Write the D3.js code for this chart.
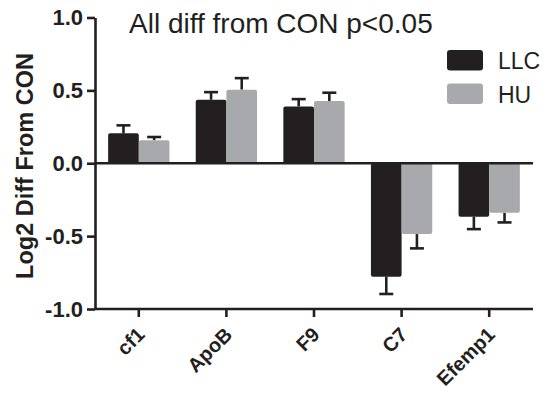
<!DOCTYPE html>
<html>
<head>
<meta charset="utf-8">
<script src="https://cdn.jsdelivr.net/npm/d3@7/dist/d3.min.js"></script>
<style>
  body { margin: 0; background: #fff; }
  text { font-family: "Liberation Sans", Arial, Helvetica, sans-serif; fill: #231f20; }
</style>
</head>
<body>
<div id="chart"></div>
<script>
// data
var genes = ['cf1', 'ApoB', 'F9', 'C7', 'Efemp1'];
var groups = ['LLC', 'HU'];
var llcValues = [0.205, 0.436, 0.39, -0.778, -0.367];
var llcErrors = [0.055, 0.052, 0.05, 0.119, 0.085];
var huValues = [0.158, 0.505, 0.427, -0.486, -0.34];
var huErrors = [0.022, 0.079, 0.057, 0.098, 0.066];
var yTicks = [-1.0, -0.5, 0.0, 0.5, 1.0];
var colors = ['#231f20', '#a7a9ac'];

var width = 547, height = 393;
var ink = '#231f20';

var svg = d3.select('#chart')
  .append('svg')
  .attr('width', width)
  .attr('height', height);

var x = d3.scaleBand()
  .domain(genes)
  .range([95, 533])
  .paddingInner(0.3)
  .paddingOuter(0.15);

var xSub = d3.scaleBand()
  .domain(groups)
  .range([0, x.bandwidth()]);

var y = d3.scaleLinear()
  .domain([-1, 1])
  .range([309, 17.5]);

// build rows for each bar
var rows = [];
genes.forEach(function (g, i) {
  rows.push({ gene: g, group: 'LLC', value: llcValues[i], err: llcErrors[i] });
  rows.push({ gene: g, group: 'HU', value: huValues[i], err: huErrors[i] });
});

// error bars (drawn first so bars cover the inner part)
var errG = svg.append('g').attr('class', 'errors');
rows.forEach(function (d) {
  var cx = x(d.gene) + xSub(d.group) + xSub.bandwidth() / 2;
  var tip = d.value >= 0 ? d.value + d.err : d.value - d.err;
  errG.append('line')
    .attr('x1', cx).attr('x2', cx)
    .attr('y1', y(d.value)).attr('y2', y(tip))
    .attr('stroke', ink).attr('stroke-width', 2.6);
  errG.append('line')
    .attr('x1', cx - 7).attr('x2', cx + 7)
    .attr('y1', y(tip)).attr('y2', y(tip))
    .attr('stroke', ink).attr('stroke-width', 2.6);
});

// bars
svg.append('g').attr('class', 'bars')
  .selectAll('rect')
  .data(rows)
  .enter()
  .append('rect')
  .attr('x', function (d) { return x(d.gene) + xSub(d.group); })
  .attr('y', function (d) { return y(Math.max(0, d.value)); })
  .attr('width', xSub.bandwidth())
  .attr('height', function (d) { return Math.abs(y(d.value) - y(0)); })
  .attr('rx', 2)
  .attr('fill', function (d) { return colors[groups.indexOf(d.group)]; });

// zero line
svg.append('line')
  .attr('x1', 95).attr('x2', 533)
  .attr('y1', y(0)).attr('y2', y(0))
  .attr('stroke', ink).attr('stroke-width', 2.6);

// y axis
var yAxis = svg.append('g')
  .attr('transform', 'translate(95,0)')
  .call(d3.axisLeft(y).tickValues(yTicks).tickFormat(d3.format('.1f')).tickSize(8).tickSizeOuter(0));
yAxis.select('.domain').attr('stroke', ink).attr('stroke-width', 2.6);
yAxis.selectAll('.tick line').attr('stroke', ink).attr('stroke-width', 2.6);
yAxis.selectAll('.tick text')
  .attr('x', -12)
  .style('font-size', '22px')
  .style('font-weight', 'bold')
  .style('fill', ink)
  .text(function (d) { return d3.format('.1f')(d).replace('−', '-'); });

// x axis at the bottom
var xAxis = svg.append('g')
  .attr('transform', 'translate(0,' + y(-1) + ')')
  .call(d3.axisBottom(x).tickSize(8).tickSizeOuter(0));
xAxis.select('.domain').attr('stroke', ink).attr('stroke-width', 2.6)
  .attr('d', 'M95,0H533');
xAxis.selectAll('.tick line').attr('stroke', ink).attr('stroke-width', 2.6);
xAxis.selectAll('.tick text')
  .style('font-size', '20px')
  .style('font-weight', 'bold')
  .style('fill', ink)
  .attr('text-anchor', 'end')
  .attr('dy', '0.35em')
  .attr('transform', 'translate(2,22) rotate(-45)')
  .attr('y', 0).attr('x', 0);

// y label
svg.append('text')
  .attr('transform', 'translate(33,166) rotate(-90)')
  .attr('text-anchor', 'middle')
  .style('font-size', '23.5px')
  .style('font-weight', 'bold')
  .text('Log2 Diff From CON');

// title
svg.append('text')
  .attr('x', 129)
  .attr('y', 33)
  .style('font-size', '28px')
  .text('All diff from CON p<0.05');

// legend
var legend = svg.append('g').attr('class', 'legend');
groups.forEach(function (g, i) {
  legend.append('rect')
    .attr('x', 447).attr('y', 50 + i * 33.5)
    .attr('width', 36).attr('height', 20.5)
    .attr('rx', 3)
    .attr('fill', colors[i]);
  legend.append('text')
    .attr('x', 498).attr('y', 68.5 + i * 34)
    .style('font-size', '23px')
    .text(g);
});
</script>
</body>
</html>
